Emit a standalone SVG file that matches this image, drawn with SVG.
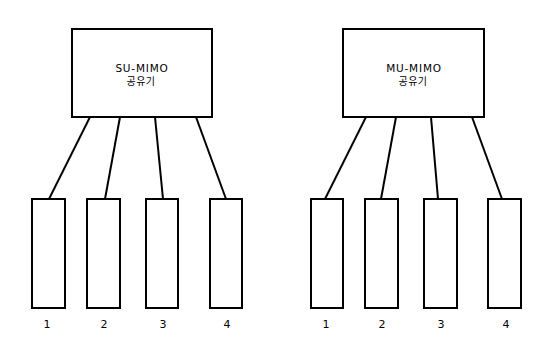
<svg xmlns="http://www.w3.org/2000/svg" width="550" height="353" viewBox="0 0 550 353">
<style>
.b{fill:#fff;stroke:#000;stroke-width:2}
.c{stroke:#000;stroke-width:2;fill:none}
.t{font-family:"DejaVu Sans","Noto Sans CJK KR",sans-serif;font-size:10.5px;letter-spacing:0.8px;fill:#000;text-anchor:middle}
.k{font-family:"Noto Sans CJK KR",sans-serif;font-size:10px;letter-spacing:0.5px;fill:#000;text-anchor:middle}
.n{font-family:"DejaVu Sans",sans-serif;font-size:11px;fill:#000;text-anchor:middle}
</style>
<rect width="550" height="353" fill="#fff"/>
<g id="connectors">
<line class="c" x1="90" y1="117" x2="49" y2="199"/>
<line class="c" x1="120" y1="117" x2="105" y2="199"/>
<line class="c" x1="155" y1="117" x2="163" y2="199"/>
<line class="c" x1="196" y1="117" x2="226" y2="199"/>
<line class="c" x1="366" y1="117" x2="325" y2="199"/>
<line class="c" x1="396" y1="117" x2="381" y2="199"/>
<line class="c" x1="431" y1="117" x2="438" y2="199"/>
<line class="c" x1="472" y1="117" x2="502" y2="199"/>
</g>
<g id="su-router"><rect class="b" x="72" y="29" width="140" height="88"/><text class="t" x="142" y="72">SU-MIMO</text><text class="k" x="141" y="84.5">공유기</text></g>
<g id="mu-router"><rect class="b" x="343" y="29" width="141" height="88"/><text class="t" x="414" y="72">MU-MIMO</text><text class="k" x="413" y="84.5">공유기</text></g>
<g id="su-1"><rect class="b" x="32" y="199" width="33" height="109"/><text class="n" x="47" y="328">1</text></g>
<g id="su-2"><rect class="b" x="87" y="199" width="33" height="109"/><text class="n" x="104" y="328">2</text></g>
<g id="su-3"><rect class="b" x="146" y="199" width="32" height="109"/><text class="n" x="163" y="328">3</text></g>
<g id="su-4"><rect class="b" x="210" y="199" width="32" height="109"/><text class="n" x="227" y="328">4</text></g>
<g id="mu-1"><rect class="b" x="311" y="199" width="32" height="109"/><text class="n" x="326" y="328">1</text></g>
<g id="mu-2"><rect class="b" x="365" y="199" width="33" height="109"/><text class="n" x="382" y="328">2</text></g>
<g id="mu-3"><rect class="b" x="424" y="199" width="33" height="109"/><text class="n" x="441" y="328">3</text></g>
<g id="mu-4"><rect class="b" x="488" y="199" width="33" height="109"/><text class="n" x="506" y="328">4</text></g>
</svg>
